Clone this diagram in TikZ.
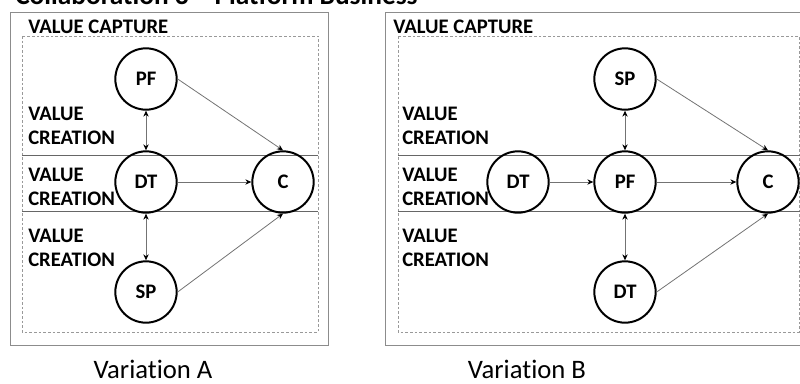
\documentclass[tikz,border=0pt]{standalone}
\usepackage{fontspec}
\setmainfont[Ligatures=NoCommon]{Carlito}
\usetikzlibrary{arrows.meta}

\tikzset{
	actor/.style={circle, draw=black, line width=1.5pt, minimum size=46pt, inner sep=0pt, font=\fontsize{15.5}{18}\selectfont\bfseries},
	zone/.style={anchor=west, inner sep=0pt, align=left, font=\fontsize{15.5}{18}\selectfont\bfseries},
	link/.style={draw=black!55, line width=0.6pt, -{Stealth[length=4.5pt,width=4pt,color=black]}},
	twoway/.style={draw=black!55, line width=0.6pt, {Stealth[length=4.5pt,width=4pt,color=black]}-{Stealth[length=4.5pt,width=4pt,color=black]}},
	frame/.style={draw=black!45, line width=0.75pt},
	inner/.style={draw=black!40, line width=0.5pt, dash pattern=on 2pt off 1.5pt},
	band/.style={draw=black!60, line width=0.5pt}
}

\begin{document}
\begin{tikzpicture}[x=0.75pt, y=-0.75pt]
	\clip (0,0) rectangle (800,383);

	% title, cut off at the top
	\node[anchor=base west, inner sep=0pt, font=\fontsize{20.5}{24}\selectfont\bfseries] (title) at (15,4) {Collaboration 3 – Platform Business};

	% variation A
	\draw[frame] (10,12) rectangle (328,345);
	\draw[inner] (22,36) rectangle (318,332);
	\draw[band] (22,155) -- (318,155);
	\draw[band] (22,211) -- (318,211);

	\node[zone] (capA) at (28,26.5) {VALUE CAPTURE};
	\node[zone] (creA1) at (28,125.5) {VALUE\\CREATION};
	\node[zone] (creA2) at (28,186.5) {VALUE\\CREATION};
	\node[zone] (creA3) at (28,248) {VALUE\\CREATION};

	\node[actor] (pfA) at (146,79) {PF};
	\node[actor] (dtA) at (146,182) {DT};
	\node[actor] (cA) at (283,182) {C};
	\node[actor] (spA) at (146,292) {SP};

	\draw[twoway] (pfA) -- (dtA);
	\draw[twoway] (dtA) -- (spA);
	\draw[link] (pfA.east) -- (cA.north);
	\draw[link] (dtA) -- (cA);
	\draw[link] (spA.east) -- (cA.south);

	% variation B
	\draw[frame] (385,12) rectangle (830,345);
	\draw[inner] (398,36) rectangle (799,332);
	\draw[band] (398,155) -- (800,155);
	\draw[band] (398,211) -- (800,211);

	\node[zone] (capB) at (393,26.5) {VALUE CAPTURE};
	\node[zone] (creB1) at (402,125.5) {VALUE\\CREATION};
	\node[zone] (creB2) at (402,186.5) {VALUE\\CREATION};
	\node[zone] (creB3) at (402,248) {VALUE\\CREATION};

	\node[actor] (spB) at (625,79) {SP};
	\node[actor] (dtlB) at (518,182) {DT};
	\node[actor] (pfB) at (625,182) {PF};
	\node[actor] (cB) at (768,182) {C};
	\node[actor] (dtB) at (625,292) {DT};

	\draw[link] (dtlB) -- (pfB);
	\draw[link] (pfB) -- (cB);
	\draw[twoway] (spB) -- (pfB);
	\draw[twoway] (pfB) -- (dtB);
	\draw[link] (spB.east) -- (cB.north);
	\draw[link] (dtB.east) -- (cB.south);

	%labels
	\node[anchor=base, inner sep=0pt, font=\fontsize{20}{24}\selectfont] (varA) at (153,378) {Variation A};
	\node[anchor=base, inner sep=0pt, font=\fontsize{20}{24}\selectfont] (varB) at (527,378) {Variation B};
\end{tikzpicture}
\end{document}
